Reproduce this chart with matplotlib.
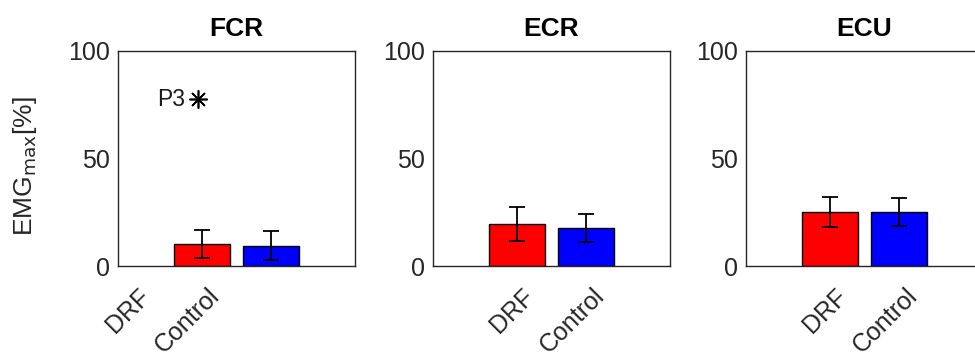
import numpy as np
import matplotlib
matplotlib.use("Agg")
import matplotlib.pyplot as plt
import matplotlib.transforms as mtransforms

plt.rcParams['font.family'] = ['Liberation Sans', 'DejaVu Sans']

# Data
muscles = ['FCR', 'ECR', 'ECU']
groups = ['DRF', 'Control']
drf_mean = [10.1, 19.5, 25.1]
drf_err = [6.5, 7.8, 6.9]
ctrl_mean = [9.5, 17.7, 25.1]
ctrl_err = [6.8, 6.5, 6.4]
yticks = [0, 50, 100]

bar_colors = ['#ff0000', '#0000ff']
gray = '#262626'

# Axes boxes in pixels (left, width) -- figure is 975x352
fig_w, fig_h = 975, 352
lefts = [118, 433, 746]
width_px = 237
bottom_px, height_px = 86, 215

fig = plt.figure(figsize=(fig_w / 100, fig_h / 100), dpi=100)

for i, name in enumerate(muscles):
    ax = fig.add_axes([lefts[i] / fig_w, bottom_px / fig_h,
                       width_px / fig_w, height_px / fig_h])
    x = np.array([1, 2])
    means = [drf_mean[i], ctrl_mean[i]]
    errs = [drf_err[i], ctrl_err[i]]
    ax.bar(x, means, width=0.8, color=bar_colors, edgecolor='black',
           linewidth=1.0, zorder=2)
    ax.errorbar(x, means, yerr=errs, fmt='none', ecolor='black',
                elinewidth=1.3, capsize=5.5, capthick=1.3, zorder=3)

    ax.set_xlim(-0.2, 3.2)
    ax.set_ylim(0, 100)
    ax.set_yticks(yticks)

    # first panel has its category labels shifted by one, as in the original
    tick_pos = [0, 1] if i == 0 else [1, 2]
    ax.set_xticks([])
    offset = mtransforms.ScaledTranslation(4 / 72, -13 / 72, fig.dpi_scale_trans)
    trans = ax.get_xaxis_transform() + offset
    for xp, lab in zip(tick_pos, groups):
        ax.text(xp, 0, lab, transform=trans, rotation=45, ha='right',
                va='top', rotation_mode='anchor', fontsize=18, color=gray,
                clip_on=False)

    ax.tick_params(axis='both', length=0, labelsize=18, labelcolor=gray)
    ax.tick_params(axis='y', pad=6)
    for sp in ax.spines.values():
        sp.set_color(gray)
        sp.set_linewidth(1.0)

    ax.set_title(name, fontsize=19, fontweight='bold', pad=10.5)

    if i == 0:
        ax.set_ylabel(r'EMG$_{\mathrm{max}}$[%]', fontsize=19, color=gray)
        ax.yaxis.set_label_coords(-0.335, 0.465)
        ax.text(0.76, 77.5, 'P3', fontsize=16.5, ha='right', va='center',
                color='#1a1a1a')
        ax.plot([0.95], [77.5], marker=(8, 2, 0), markersize=13,
                markeredgewidth=1.2, color='black', linestyle='none')

fig.savefig('out.png', dpi=100)
